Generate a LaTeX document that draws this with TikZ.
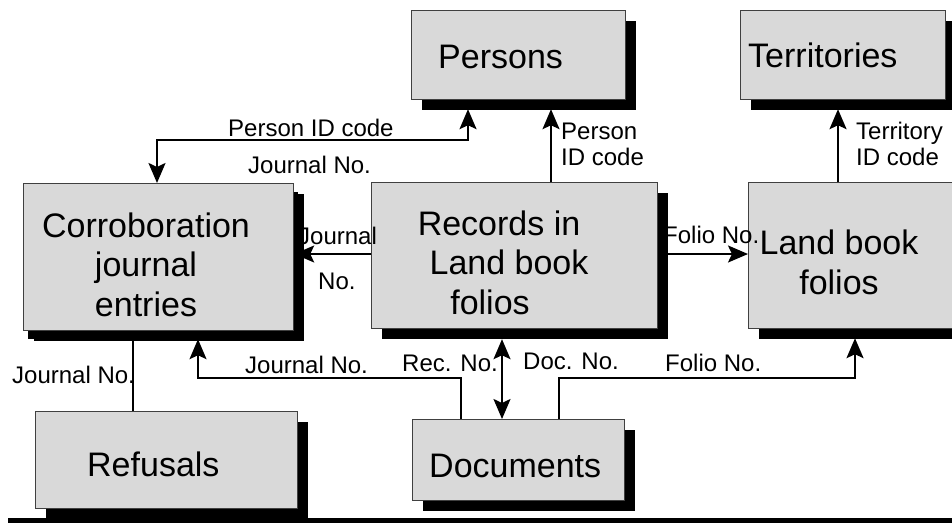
\documentclass[tikz,border=0pt]{standalone}
\usepackage{fontspec}
\setmainfont{Liberation Sans}
\usetikzlibrary{calc,arrows.meta,shadows}

\tikzset{
  entity/.style={draw=black!75, line width=1.2pt, fill=black!15, anchor=north west,
    inner sep=0pt, drop shadow={shadow xshift=10pt, shadow yshift=-10pt, fill=black, opacity=1}},
  boxtext/.style={font=\fontsize{34}{39.5}\selectfont, inner sep=0pt, align=center},
  flowlabel/.style={font=\fontsize{24}{26}\selectfont, inner sep=0pt, align=left, anchor=base west},
  link/.style={line width=2pt},
  tip/.tip={Stealth[length=20pt, width=17pt, inset=4pt]},
}

\begin{document}
\begin{tikzpicture}[x=1pt, y=-1pt]
\useasboundingbox (0,0) rectangle (952,522);
\clip (0,0) rectangle (952,522);

% entity boxes
\node[entity, minimum width=214pt, minimum height=89pt] (persons) at (411,10) {};
\node[entity, minimum width=205pt, minimum height=89pt] (territ) at (740,10) {};
\node[entity, minimum width=270pt, minimum height=147pt,
  drop shadow={shadow xshift=4pt, shadow yshift=-8pt, fill=black, opacity=1}] (corr) at (23,183) {};
\node[entity, minimum width=286pt, minimum height=146pt] (records) at (371,182) {};
\node[entity, minimum width=215pt, minimum height=146pt] (land) at (748,182) {};
\node[entity, minimum width=262pt, minimum height=97pt] (refusals) at (35,411) {};
\node[entity, minimum width=212pt, minimum height=81pt] (docs) at (412,419) {};

% box captions (multi-line captions are placed by the baseline of their last line)
\node[boxtext, anchor=base west] (persons-t) at (438,68) {Persons};
\node[boxtext, anchor=base west] (territ-t) at (748,67) {Territories};
\node[boxtext, anchor=base] (corr-t) at (146,316) {Corroboration\\journal\\entries};
\node[boxtext, anchor=base] (records-t) at (499,314) {Records in\\\hspace*{20pt}Land book\\folios\hspace*{18pt}};
\node[boxtext, anchor=base] (land-t) at (839,294) {Land book\\folios};
\node[boxtext, anchor=base west] (refusals-t) at (87,476) {Refusals};
\node[boxtext, anchor=base west] (docs-t) at (429,477) {Documents};

% connectors
\draw[link, -tip] (551,0 |- records.north) -- ($(551,0 |- persons.south)+(0,9)$);
\draw[link, -tip] (838,0 |- land.north) -- ($(838,0 |- territ.south)+(0,9)$);
\draw[link, tip-tip] ($(468,0 |- persons.south)+(0,9)$) |- (157,140) -- (157,0 |- corr.north);
\draw[link, -tip] (records.west |- 0,254) -- (corr.east |- 0,254);
\draw[link, -tip] (records.east |- 0,254) -- (land.west |- 0,254);
\draw[link] (133,0 |- refusals.north) -- (133,0 |- corr.south);
\draw[link, -tip] (461,0 |- docs.north) |- (198,378) -- ($(198,0 |- corr.south)+(0,8)$);
\draw[link, tip-tip] (502,0 |- docs.north) -- ($(502,0 |- records.south)+(0,10)$);
\draw[link, -tip] (559,0 |- docs.north) |- (855,378) -- ($(855,0 |- land.south)+(0,9)$);

% connector labels
\node[flowlabel] (l-pid) at (228,136) {Person ID code};
\node[flowlabel] (l-jn1) at (248,173) {Journal No.};
\node[flowlabel] (l-j2) at (298,244) {Journal};
\node[flowlabel] (l-no) at (318,289) {No.};
\node[flowlabel] (l-fn1) at (663,243) {Folio No.};
\node[flowlabel] (l-pid2) at (561,165) {Person\\ID code};
\node[flowlabel] (l-tid) at (856,165) {Territory\\ID code};
\node[flowlabel] (l-jn3) at (12,383) {Journal No.};
\node[flowlabel] (l-jn4) at (245,373) {Journal No.};
\node[flowlabel] (l-rec) at (402,371) {Rec. No.};
\node[flowlabel] (l-doc) at (523,369) {Doc. No.};
\node[flowlabel] (l-fn2) at (665,371) {Folio No.};

% rule along the bottom
\fill[black] (8,518) rectangle (952,523);
\end{tikzpicture}
\end{document}
